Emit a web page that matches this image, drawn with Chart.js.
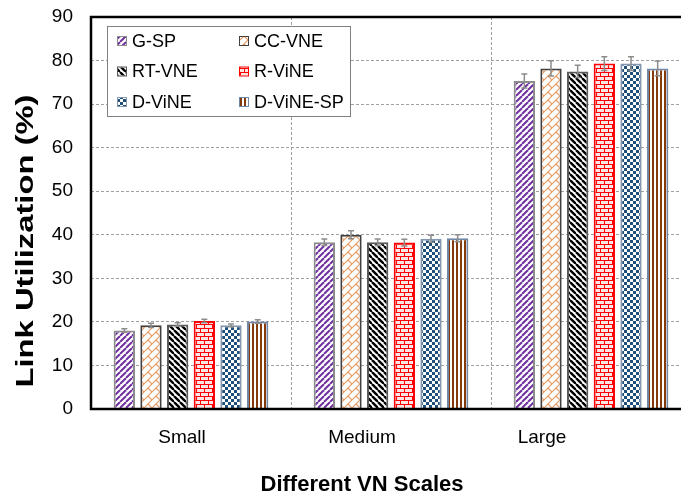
<!DOCTYPE html>
<html lang="en">
<head>
    <meta charset="UTF-8">
    <title>Link Utilization by VN Scale</title>
    <script src="https://cdn.jsdelivr.net/npm/chart.js"></script>
    <style>
        /* page is a fixed photo frame; plot runs past the right edge like the original */
        body {
            margin: 0;
            overflow: hidden;
            background: #ffffff;
        }

        .chart-box {
            position: relative;
            width: 700px;
            height: 496px;
        }
    </style>
</head>
<body>
<div class="chart-box">
    <canvas id="myChart"></canvas>
</div>

<script>
    // Categories on the x axis
    const categories = ['Small', 'Medium', 'Large'];

    // Series values (link utilization, %)
    const gsp     = [18.0, 38.3, 75.3];
    const ccvne   = [19.2, 40.0, 78.2];
    const rtvne   = [19.4, 38.3, 77.5];
    const rvine   = [20.2, 38.2, 79.3];
    const dvine   = [19.2, 39.1, 79.3];
    const dvinesp = [20.1, 39.2, 78.2];

    // Error bar half-lengths
    const gspErr     = [0.4, 0.75, 1.6];
    const ccvneErr   = [0.5, 0.9, 1.75];
    const rtvneErr   = [0.4, 0.75, 1.4];
    const rvineErr   = [0.4, 0.75, 1.6];
    const dvineErr   = [0.3, 0.8, 1.6];
    const dvinespErr = [0.4, 0.8, 1.7];

    // Y axis ticks
    const yTicks = [0, 10, 20, 30, 40, 50, 60, 70, 80, 90];

    const canvas = document.getElementById('myChart');
    const mainCtx = canvas.getContext('2d');

    // build a repeating fill from a small tile
    function makePattern(w, h, draw) {
        const tile = document.createElement('canvas');
        tile.width = w;
        tile.height = h;
        const t = tile.getContext('2d');
        t.fillStyle = '#ffffff';
        t.fillRect(0, 0, w, h);
        draw(t, w, h);
        return mainCtx.createPattern(tile, 'repeat');
    }

    // "/" stripes
    const purpleStripes = makePattern(6, 6, (t, s) => {
        t.strokeStyle = '#7030A0';
        t.lineWidth = 2;
        for (const k of [-s, 0, s]) {
            t.beginPath();
            t.moveTo(k, s);
            t.lineTo(k + s, 0);
            t.stroke();
        }
    });

    // diagonal trellis
    const orangeTrellis = makePattern(8, 8, (t, s) => {
        t.strokeStyle = '#E59A62';
        t.lineWidth = 1.2;
        for (const k of [-s, 0, s]) {
            t.beginPath();
            t.moveTo(k, s);
            t.lineTo(k + s, 0);
            t.stroke();
        }
        t.beginPath();
        t.moveTo(4, 4);
        t.lineTo(8, 8);
        t.moveTo(-4, -4);
        t.lineTo(0, 0);
        t.stroke();
    });

    // "\" stripes
    const blackStripes = makePattern(6, 6, (t, s) => {
        t.strokeStyle = '#000000';
        t.lineWidth = 2.4;
        for (const k of [-s, 0, s]) {
            t.beginPath();
            t.moveTo(k, 0);
            t.lineTo(k + s, s);
            t.stroke();
        }
    });

    // red brick
    const redBrick = makePattern(8, 8, (t) => {
        t.fillStyle = '#FFE4E4';
        t.fillRect(1, 1, 7, 3);
        t.fillRect(0, 5, 4, 3);
        t.fillRect(5, 5, 3, 3);
        t.fillStyle = '#FF0000';
        t.fillRect(0, 0, 8, 1);
        t.fillRect(0, 4, 8, 1);
        t.fillRect(0, 0, 1, 4);
        t.fillRect(4, 4, 1, 4);
    });

    // blue checker
    const blueChecker = makePattern(6, 6, (t) => {
        t.fillStyle = '#1F4E79';
        t.fillRect(0, 0, 3, 3);
        t.fillRect(3, 3, 3, 3);
    });

    // brown vertical stripes
    const brownStripes = makePattern(4, 4, (t) => {
        t.fillStyle = '#843C0C';
        t.fillRect(0, 0, 2, 4);
    });

    const series = [
        { label: 'G-SP',      data: gsp,     err: gspErr,     fill: purpleStripes, border: '#8C8C8C' },
        { label: 'CC-VNE',    data: ccvne,   err: ccvneErr,   fill: orangeTrellis, border: '#404040' },
        { label: 'RT-VNE',    data: rtvne,   err: rtvneErr,   fill: blackStripes,  border: '#595959' },
        { label: 'R-ViNE',    data: rvine,   err: rvineErr,   fill: redBrick,      border: '#FF0000' },
        { label: 'D-ViNE',    data: dvine,   err: dvineErr,   fill: blueChecker,   border: '#8497B0' },
        { label: 'D-ViNE-SP', data: dvinesp, err: dvinespErr, fill: brownStripes,  border: '#6F86A6' }
    ];

    // error bars, placed with the library's own scales
    const errorBars = {
        id: 'errorBars',
        afterDatasetsDraw(chart) {
            const ctx = chart.ctx;
            const y = chart.scales.y;
            ctx.save();
            ctx.strokeStyle = '#8C8C8C';
            ctx.lineWidth = 1.5;
            chart.data.datasets.forEach((ds, i) => {
                const meta = chart.getDatasetMeta(i);
                meta.data.forEach((bar, j) => {
                    const v = ds.data[j];
                    const e = ds.errors[j];
                    const yTop = y.getPixelForValue(v + e);
                    const yBot = y.getPixelForValue(v - e);
                    ctx.beginPath();
                    ctx.moveTo(bar.x, yTop);
                    ctx.lineTo(bar.x, yBot);
                    ctx.moveTo(bar.x - 3, yTop);
                    ctx.lineTo(bar.x + 3, yTop);
                    ctx.moveTo(bar.x - 3, yBot);
                    ctx.lineTo(bar.x + 3, yBot);
                    ctx.stroke();
                });
            });
            ctx.restore();
        }
    };

    // frame, category labels, axis titles and boxed legend
    const decorations = {
        id: 'decorations',
        afterDraw(chart) {
            const ctx = chart.ctx;
            const a = chart.chartArea;
            const x = chart.scales.x;
            ctx.save();

            // plot frame (top, left, bottom)
            ctx.strokeStyle = '#000000';
            ctx.lineWidth = 2.5;
            ctx.beginPath();
            ctx.moveTo(a.right, a.top);
            ctx.lineTo(a.left, a.top);
            ctx.lineTo(a.left, a.bottom);
            ctx.lineTo(a.right, a.bottom);
            ctx.stroke();

            // category labels (original sits a little left of each group)
            ctx.fillStyle = '#000000';
            ctx.font = '19px Arial, "Liberation Sans", sans-serif';
            ctx.textAlign = 'center';
            ctx.textBaseline = 'alphabetic';
            categories.forEach((c, i) => {
                ctx.fillText(c, x.getPixelForValue(i) - 9 - 20 * i, 443);
            });

            // x title
            ctx.font = 'bold 22px Arial, "Liberation Sans", sans-serif';
            ctx.fillText('Different VN Scales', 362, 491);

            // y title, stretched along its length as in the original
            ctx.save();
            ctx.translate(26, 241);
            ctx.rotate(-Math.PI / 2);
            ctx.font = 'bold 23px Arial, "Liberation Sans", sans-serif';
            ctx.textBaseline = 'middle';
            const yTitle = 'Link Utilization (%)';
            const w = ctx.measureText(yTitle).width;
            ctx.scale(293 / w, 1);
            ctx.fillText(yTitle, 0, 1);
            ctx.restore();

            // legend box
            ctx.fillStyle = '#ffffff';
            ctx.fillRect(107, 26, 244, 91);
            ctx.strokeStyle = '#808080';
            ctx.lineWidth = 1;
            ctx.strokeRect(107.5, 26.5, 243, 90);

            ctx.font = '18px Arial, "Liberation Sans", sans-serif';
            ctx.textAlign = 'left';
            ctx.textBaseline = 'middle';
            chart.data.datasets.forEach((ds, i) => {
                const col = i % 2;
                const row = Math.floor(i / 2);
                const sx = col === 0 ? 118 : 240;
                const sy = 41 + row * 30.5;
                ctx.fillStyle = ds.backgroundColor;
                ctx.fillRect(sx, sy - 4, 8, 8);
                ctx.strokeStyle = ds.borderColor;
                ctx.lineWidth = 1;
                ctx.strokeRect(sx - 0.5, sy - 4.5, 9, 9);
                ctx.fillStyle = '#000000';
                ctx.fillText(ds.label, sx + 14, sy + 1);
            });

            ctx.restore();
        }
    };

    const myChart = new Chart(mainCtx, {
        type: 'bar',
        data: {
            labels: categories,
            datasets: series.map(s => ({
                label: s.label,
                data: s.data,
                errors: s.err,
                backgroundColor: s.fill,
                borderColor: s.border,
                borderWidth: 2,
                categoryPercentage: 0.8,
                barPercentage: 0.8
            }))
        },
        options: {
            responsive: true,
            maintainAspectRatio: false,
            animation: false,
            devicePixelRatio: 1,
            layout: {
                padding: { left: 0, top: 17, right: 9, bottom: 0 }
            },
            plugins: {
                legend: { display: false },
                tooltip: { enabled: false }
            },
            scales: {
                x: {
                    grid: {
                        color: '#A0A0A0',
                        lineWidth: 1,
                        drawTicks: false,
                        offset: true
                    },
                    border: { display: false, dash: [3, 2] },
                    ticks: { display: false },
                    afterFit: (scale) => { scale.height = 87; }
                },
                y: {
                    min: 0,
                    max: 90,
                    afterBuildTicks: (scale) => {
                        scale.ticks = yTicks.map(v => ({ value: v }));
                    },
                    grid: {
                        color: '#A0A0A0',
                        lineWidth: 1,
                        drawTicks: true,
                        tickLength: 16,
                        tickColor: 'rgba(0,0,0,0)'
                    },
                    border: { display: false, dash: [3, 2] },
                    ticks: {
                        color: '#000000',
                        padding: 2,
                        font: { family: 'Arial, "Liberation Sans", sans-serif', size: 19 }
                    },
                    afterFit: (scale) => { scale.width = 91; }
                }
            }
        },
        plugins: [errorBars, decorations]
    });
</script>
</body>
</html>
